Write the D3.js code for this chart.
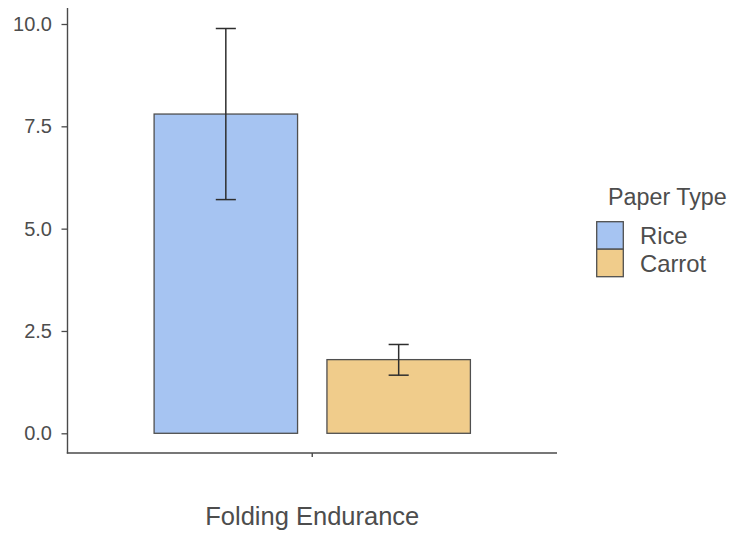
<!DOCTYPE html>
<html>
<head>
<meta charset="utf-8">
<script src="https://cdn.jsdelivr.net/npm/d3@7"></script>
<style>
  html, body { margin: 0; padding: 0; background: #fff; }
  svg { display: block; font-family: "Liberation Sans", Arial, sans-serif; }
</style>
</head>
<body>
<svg id="chart" width="730" height="534"></svg>
<script>
// ---- data ----
const categories = ["Folding Endurance"];
const paperTypes = ["Rice", "Carrot"];
const means = [7.8, 1.8];
const errLow = [5.71, 1.42];
const errHigh = [9.89, 2.17];
const yTicks = [0, 2.5, 5, 7.5, 10];
const colors = ["#a6c4f2", "#f0cc8b"];

const svg = d3.select("#chart");
const textColor = "#4d4d4d";
const axisColor = "#4a4a4a";

const panel = { left: 67.5, right: 557, top: 8, bottom: 453 };

const y = d3.scaleLinear().domain([0, 10]).range([433.3, 24]);

const x = d3.scaleBand().domain(categories)
  .range([panel.left, panel.right])
  .paddingInner(0).paddingOuter(0.208);

const xInner = d3.scaleBand().domain(paperTypes)
  .range([0, x.bandwidth()])
  .paddingInner(0.17).paddingOuter(0.085);

const color = d3.scaleOrdinal().domain(paperTypes).range(colors);

const rows = paperTypes.map((t, i) => ({
  cat: categories[0], type: t, mean: means[i], lo: errLow[i], hi: errHigh[i]
}));

// bars
svg.append("g").selectAll("rect").data(rows).join("rect")
  .attr("x", d => x(d.cat) + xInner(d.type))
  .attr("y", d => y(d.mean))
  .attr("width", xInner.bandwidth())
  .attr("height", d => y(0) - y(d.mean))
  .attr("fill", d => color(d.type))
  .attr("stroke", "#4f4f4f")
  .attr("stroke-width", 1.3);

// error bars
const capHalf = xInner.bandwidth() * 0.07;
const eg = svg.append("g").attr("stroke", "#2e2e2e").attr("stroke-width", 1.5).attr("fill", "none");
rows.forEach(d => {
  const cx = x(d.cat) + xInner(d.type) + xInner.bandwidth() / 2;
  eg.append("line").attr("x1", cx).attr("x2", cx).attr("y1", y(d.hi)).attr("y2", y(d.lo));
  eg.append("line").attr("x1", cx - capHalf).attr("x2", cx + capHalf).attr("y1", y(d.hi)).attr("y2", y(d.hi));
  eg.append("line").attr("x1", cx - capHalf).attr("x2", cx + capHalf).attr("y1", y(d.lo)).attr("y2", y(d.lo));
});

// y axis
const yAxis = d3.axisLeft(y).tickValues(yTicks).tickFormat(d3.format(".1f")).tickSizeOuter(0).tickSize(6).tickPadding(9.5);
const gy = svg.append("g").attr("transform", `translate(${panel.left},0)`).call(yAxis);
gy.select(".domain").remove();
gy.selectAll(".tick line").attr("stroke", axisColor).attr("stroke-width", 1.3);
gy.selectAll(".tick text").attr("fill", textColor).style("font-size", "20px")
  .style("font-family", "'Liberation Sans', Arial, sans-serif");
svg.append("line").attr("x1", panel.left).attr("x2", panel.left)
  .attr("y1", panel.top).attr("y2", panel.bottom + 0.6)
  .attr("stroke", axisColor).attr("stroke-width", 1.4);

// x axis
const xAxis = d3.axisBottom(x).tickSize(4).tickFormat("").tickSizeOuter(0);
const gx = svg.append("g").attr("transform", `translate(0,${panel.bottom})`).call(xAxis);
gx.select(".domain").remove();
gx.selectAll(".tick line").attr("stroke", axisColor).attr("stroke-width", 1.4);
svg.append("line").attr("x1", panel.left - 0.7).attr("x2", panel.right)
  .attr("y1", panel.bottom).attr("y2", panel.bottom)
  .attr("stroke", axisColor).attr("stroke-width", 1.4);

// x title
svg.append("text")
  .attr("x", (panel.left + panel.right) / 2).attr("y", 524.5)
  .attr("text-anchor", "middle").attr("fill", textColor)
  .style("font-size", "25.5px")
  .text(categories[0]);

// legend
const lg = svg.append("g");
lg.append("text").attr("x", 608).attr("y", 204.5).attr("fill", textColor)
  .style("font-size", "23.3px").text("Paper Type");
const keySize = 27.5;
const legendTop = 221.7;
paperTypes.forEach((t, i) => {
  lg.append("rect").attr("x", 596.7).attr("y", legendTop + i * keySize)
    .attr("width", 26.6).attr("height", keySize)
    .attr("fill", color(t)).attr("stroke", "#4f4f4f").attr("stroke-width", 1.3);
  lg.append("text").attr("x", 640).attr("y", legendTop + i * keySize + keySize / 2)
    .attr("dy", "0.36em").attr("fill", textColor)
    .style("font-size", "23.8px").text(t);
});
</script>
</body>
</html>
